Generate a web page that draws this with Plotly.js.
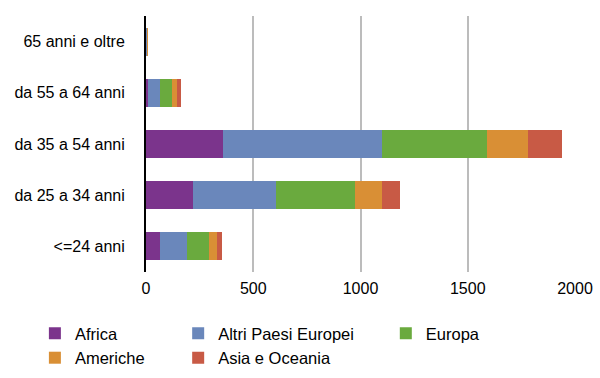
<!DOCTYPE html>
<html><head><meta charset="utf-8">
<script src="https://cdn.plot.ly/plotly-3.0.1.min.js"></script>
<style>html,body{margin:0;padding:0;background:#fff}#chart{width:600px;height:378px}</style>
</head><body><div id="chart"></div>
<script>
const categories = ['<=24 anni','da 25 a 34 anni','da 35 a 54 anni','da 55 a 64 anni','65 anni e oltre'];
const africa   = [64, 218, 361, 8, 2];
const altri    = [129, 386, 737, 56, 3];
const europa   = [100, 371, 490, 56, 1];
const americhe = [37, 125, 192, 26, 2];
const asia     = [25, 85, 161, 17, 1];
const seriesNames = ['Africa','Altri Paesi Europei','Europa','Americhe','Asia e Oceania'];
const seriesColors = ['#7b348c','#6a87bb','#6aaa3e','#d98f35','#c85a45'];
const seriesLegend = ['legend','legend2','legend3','legend','legend2'];
const seriesData = [africa, altri, europa, americhe, asia];
const xTicks = [0, 500, 1000, 1500, 2000];

const FONT = 'Liberation Sans, Arial, Helvetica, sans-serif';
const traces = seriesData.map((vals, i) => ({
  type: 'bar', orientation: 'h', name: seriesNames[i], x: vals, y: categories,
  marker: {color: seriesColors[i], line: {width: 0}}, legend: seriesLegend[i]
}));
const legendBase = {orientation: 'v', yanchor: 'top', xanchor: 'left', y: -0.172, traceorder: 'normal',
  font: {family: FONT, size: 16.5, color: '#000'}, bgcolor: 'rgba(0,0,0,0)', tracegroupgap: 0};
const layout = {
  width: 600, height: 378, barmode: 'stack', bargap: 0.45,
  margin: {l: 146, r: 25, t: 16, b: 106, autoexpand: false},
  paper_bgcolor: '#fff', plot_bgcolor: '#fff',
  font: {family: FONT, size: 16, color: '#000'},
  xaxis: {range: [0, 2000], tickvals: xTicks, showgrid: true, gridcolor: '#bcbcbc', gridwidth: 2,
          zeroline: false, showline: false, ticks: 'outside', ticklen: 2, tickcolor: 'rgba(0,0,0,0)',
          tickfont: {family: FONT, size: 16, color: '#000'}, fixedrange: true},
  yaxis: {type: 'category', categoryorder: 'array', categoryarray: categories,
          showline: true, linecolor: '#000', linewidth: 2, showgrid: false, zeroline: false,
          ticks: 'outside', ticklen: 16, tickcolor: 'rgba(0,0,0,0)',
          tickfont: {family: FONT, size: 16, color: '#000'}},
  showlegend: true,
  legend: Object.assign({}, legendBase, {x: -0.259}),
  legend2: Object.assign({}, legendBase, {x: 0.075}),
  legend3: Object.assign({}, legendBase, {x: 0.559})
};
Plotly.newPlot('chart', traces, layout, {staticPlot: true});
</script></body></html>
